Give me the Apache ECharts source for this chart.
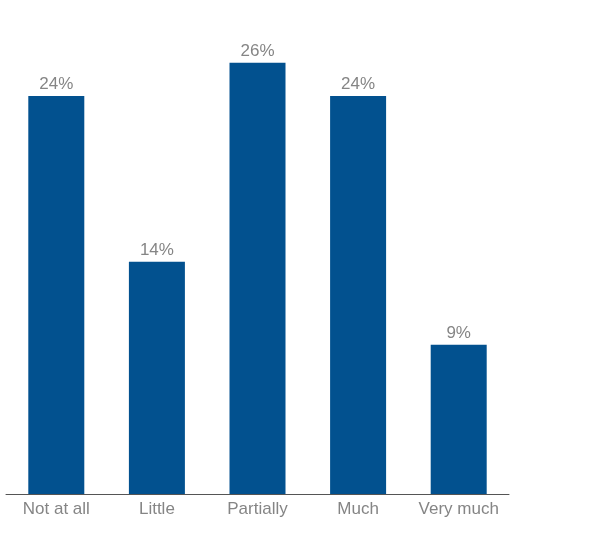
<!DOCTYPE html>
<html><head><meta charset="utf-8">
<script src="https://cdn.jsdelivr.net/npm/echarts@6/dist/echarts.min.js"></script>
<style>html,body{margin:0;padding:0;background:#fff}#c{width:595px;height:544px}</style>
</head><body><div id="c"></div>
<script>
const categories = ["Not at all", "Little", "Partially", "Much", "Very much"];
const values = [24, 14, 26, 24, 9];
const chart = echarts.init(document.getElementById('c'), null, {renderer: 'canvas'});
chart.setOption({
  animation: false,
  grid: {left: 6, right: 86, top: 62.7, bottom: 50, containLabel: false},
  xAxis: {
    type: 'category', data: categories,
    axisLine: {lineStyle: {color: '#555', width: 1}},
    axisTick: {show: false},
    axisLabel: {color: '#858585', fontSize: 17, fontFamily: 'Liberation Sans, Arial', margin: 7, interval: 0}
  },
  yAxis: {type: 'value', min: 0, max: 26, show: false, splitLine: {show: false}},
  series: [{
    type: 'bar', data: values, barWidth: 56,
    itemStyle: {color: '#02518f'},
    label: {show: true, position: 'top', distance: 3, formatter: '{c}%', color: '#858585', fontSize: 17, fontFamily: 'Liberation Sans, Arial'}
  }]
});
</script></body></html>
